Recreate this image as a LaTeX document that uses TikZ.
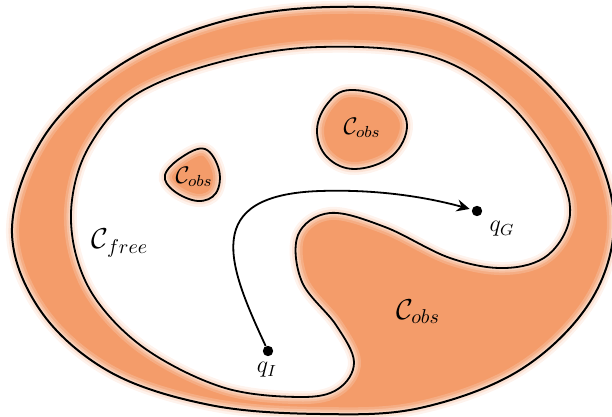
\documentclass[tikz,border=0pt]{standalone}
\usetikzlibrary{arrows.meta}
\definecolor{obs}{RGB}{244,156,106}
\begin{document}
\begin{tikzpicture}[x=0.5pt,y=-0.5pt,
  outerp/.style={insert path={plot[smooth cycle, tension=0.6] coordinates {(12,228) (45,135) (120,65) (220,22) (330,7) (440,17) (530,68) (590,140) (614,222) (590,302) (520,370) (420,408) (320,414) (210,405) (110,372) (40,310)}}},
  innerp/.style={insert path={plot[smooth cycle, tension=0.6] coordinates {(72,200) (90,145) (135,95) (220,62) (320,47) (430,56) (505,100) (555,165) (570,215) (548,255) (505,268) (450,258) (385,227) (330,213) (298,235) (302,282) (336,325) (354,362) (338,389) (300,397) (225,388) (150,352) (100,305) (76,255)}}},
  sonep/.style={insert path={plot[smooth cycle, tension=0.65] coordinates {(205,149) (219,170) (216,193) (198,201) (174,191) (165,175) (182,157)}}},
  stwop/.style={insert path={plot[smooth cycle, tension=0.65] coordinates {(350,90) (390,100) (407,125) (392,156) (355,169) (327,157) (317,130) (328,103)}}},
  outline/.style={draw=black, line width=0.9pt},
  lab/.style={inner sep=1pt},
  dot/.style={circle, fill=black, inner sep=0pt, minimum size=5.2pt},
  route/.style={line width=0.9pt, -{Stealth[length=6.5pt,width=6pt,inset=2.2pt]}, shorten >=1pt}
]
\useasboundingbox (0,0) rectangle (612,417);
% orange region
\fill[obs, even odd rule, outerp, innerp];
\fill[obs, sonep];
\fill[obs, stwop];
% soft light band inside the orange region
\begin{scope}
  \pgfseteorule
  \clip[outerp, innerp, sonep, stwop];
  \foreach \w/\o in {7/0.18, 4.5/0.22, 2.5/0.3}{
    \draw[white, opacity=\o, line width=\w pt, outerp, innerp, sonep, stwop];
  }
\end{scope}
% soft orange halo outside the orange region
\begin{scope}
  \pgfseteorule
  \clip[outerp, innerp, sonep, stwop] (-20,-20) rectangle (640,440);
  \foreach \w/\o in {6/0.12, 3.5/0.18}{
    \draw[obs, opacity=\o, line width=\w pt, outerp, innerp, sonep, stwop];
  }
\end{scope}
% outlines
\draw[outline, line width=1pt, outerp];
\draw[outline, innerp];
\draw[outline, sonep];
\draw[outline, stwop];
% labels
\node[lab, font=\large] (cobsA) at (194,177) {$\mathcal{C}_{obs}$};
\node[lab, font=\large] (cobsB) at (362,128) {$\mathcal{C}_{obs}$};
\node[lab, font=\Large] (cobsC) at (418,312) {$\mathcal{C}_{obs}$};
\node[lab, font=\Large] (cfree) at (120,243) {$\mathcal{C}_{free}$};
% start and goal
\node[dot] (qI) at (268,351) {};
\node[dot] (qG) at (477,211) {};
\node[lab, font=\large] (qIl) at (267,370) {$q_I$};
\node[lab, font=\large] (qGl) at (502,229) {$q_G$};
\draw[route] (qI) .. controls (228,265) and (200,195) .. (320,191) .. controls (380,189) and (430,198) .. (qG);
\end{tikzpicture}
\end{document}
